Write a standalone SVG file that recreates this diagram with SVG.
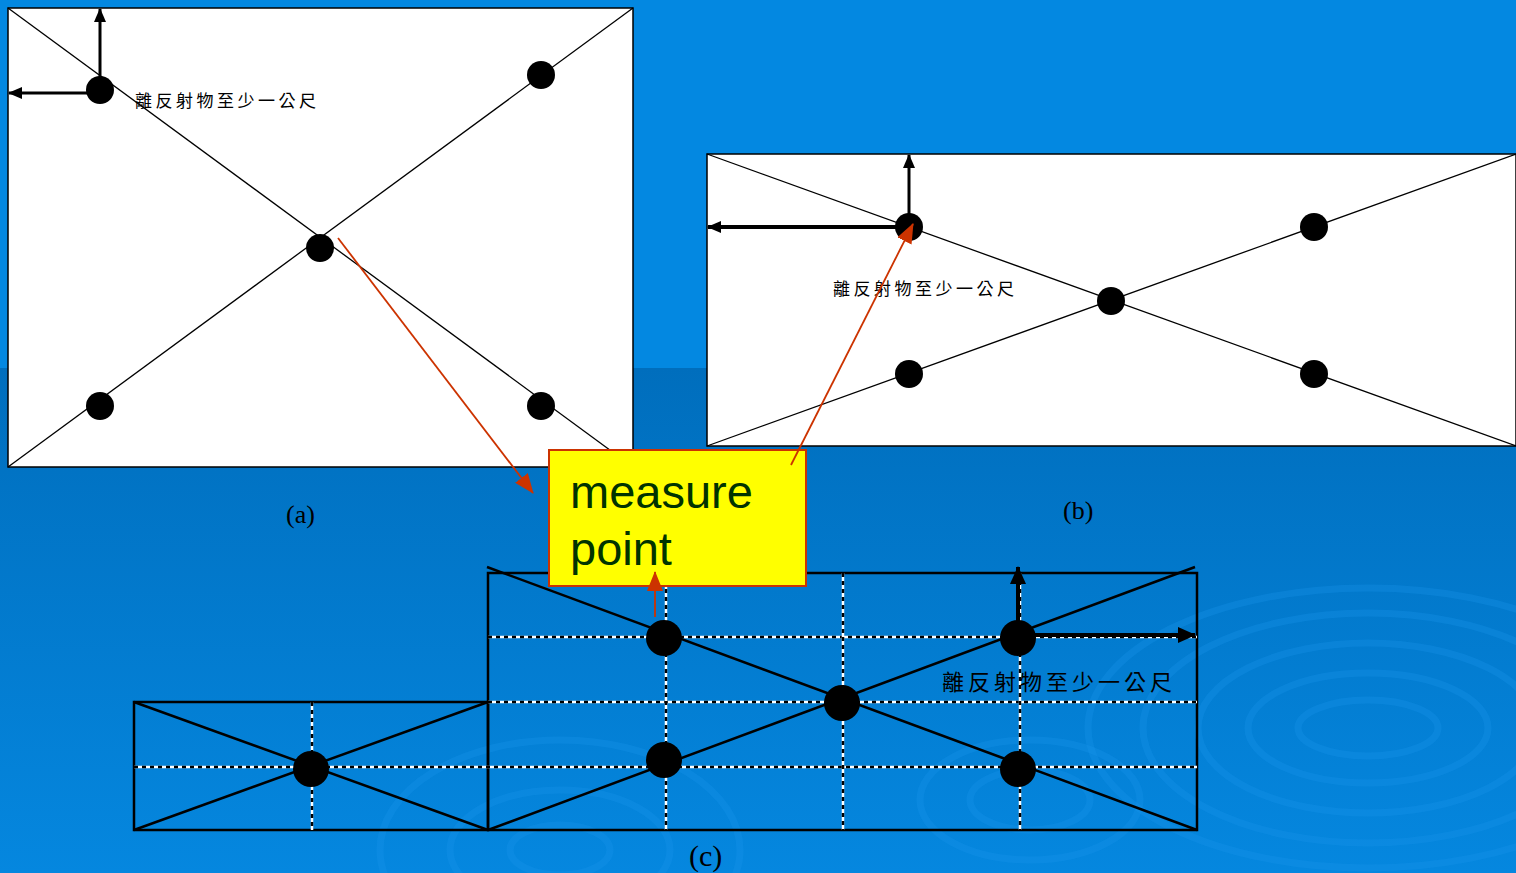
<svg xmlns="http://www.w3.org/2000/svg" width="1516" height="873" viewBox="0 0 1516 873">
<defs>
<linearGradient id="bgLow" x1="0" y1="0" x2="0" y2="1">
<stop offset="0" stop-color="#006ebd"/>
<stop offset="1" stop-color="#0587df"/>
</linearGradient>
<marker id="ah" markerUnits="userSpaceOnUse" markerWidth="14" markerHeight="12" refX="13" refY="6" orient="auto">
<path d="M0,0 L14,6 L0,12 Z" fill="#000"/>
</marker>
<marker id="ahb" markerUnits="userSpaceOnUse" markerWidth="18" markerHeight="16" refX="17" refY="8" orient="auto">
<path d="M0,0 L18,8 L0,16 Z" fill="#000"/>
</marker>
<marker id="ahr" markerUnits="userSpaceOnUse" markerWidth="20" markerHeight="16" refX="19" refY="8" orient="auto">
<path d="M0,0 L20,8 L0,16 Z" fill="#cc3300"/>
</marker>
<style>
.panel{fill:#fff;stroke:#000;stroke-width:1.5}
.thin{stroke:#000;stroke-width:1.3;fill:none}
.solid{stroke:#000;stroke-width:2.5;fill:none}
.dw{stroke:#fff;stroke-width:2.5}
.db{stroke:#000;stroke-width:2.5;stroke-dasharray:4 4}
.ax{stroke:#000;stroke-width:3;fill:none}
.ax4{stroke:#000;stroke-width:4;fill:none}
.red{stroke:#cc3300;stroke-width:1.8;fill:none}
.cjk{font-family:"Noto Sans CJK TC","Noto Sans CJK SC",sans-serif;fill:#000}
.cap{font-family:"Liberation Serif",serif;fill:#000}
.rip{fill:none;stroke:#1a95ea;stroke-opacity:0.3}
</style>
</defs>
<g id="background">
<rect x="0" y="0" width="1516" height="873" fill="#0388e1"/>
<rect x="0" y="368" width="1516" height="505" fill="url(#bgLow)"/>
<g class="rip" stroke-width="7">
<ellipse cx="1368" cy="728" rx="70" ry="28"/>
<ellipse cx="1368" cy="728" rx="120" ry="55"/>
<ellipse cx="1368" cy="728" rx="170" ry="85"/>
<ellipse cx="1368" cy="728" rx="225" ry="115"/>
<ellipse cx="1368" cy="728" rx="280" ry="140"/>
<ellipse cx="560" cy="850" rx="50" ry="25"/>
<ellipse cx="560" cy="850" rx="110" ry="60"/>
<ellipse cx="560" cy="850" rx="180" ry="110"/>
<ellipse cx="1030" cy="800" rx="60" ry="30"/>
<ellipse cx="1030" cy="800" rx="110" ry="60"/>
</g>
</g>
<g id="panel-a">
<rect class="panel" x="8" y="8" width="625" height="459"/>
<line class="thin" x1="8" y1="8" x2="633" y2="467"/>
<line class="thin" x1="8" y1="467" x2="633" y2="8"/>
<circle cx="100" cy="90" r="14"/>
<circle cx="541" cy="75" r="14"/>
<circle cx="320" cy="248" r="14"/>
<circle cx="100" cy="406" r="14"/>
<circle cx="541" cy="406" r="14"/>
<line class="ax" x1="100" y1="90" x2="100" y2="9" marker-end="url(#ah)"/>
<line class="ax" x1="100" y1="93" x2="9" y2="93" marker-end="url(#ah)"/>
<text class="cjk" x="135" y="107" font-size="17" letter-spacing="3.5">離反射物至少一公尺</text>
</g>
<g id="panel-b">
<rect class="panel" x="707" y="154" width="809" height="292"/>
<line class="thin" x1="707" y1="154" x2="1516" y2="446"/>
<line class="thin" x1="707" y1="446" x2="1516" y2="154"/>
<circle cx="909" cy="227" r="14"/>
<circle cx="1314" cy="227" r="14"/>
<circle cx="1111" cy="301" r="14"/>
<circle cx="909" cy="374" r="14"/>
<circle cx="1314" cy="374" r="14"/>
<line class="ax" x1="909" y1="227" x2="909" y2="155" marker-end="url(#ah)"/>
<line class="ax4" x1="909" y1="227" x2="708" y2="227" marker-end="url(#ah)"/>
<text class="cjk" x="833" y="295" font-size="17" letter-spacing="3.5">離反射物至少一公尺</text>
</g>
<g id="panel-c">
<rect x="488" y="573" width="709" height="257" fill="none" stroke="#000" stroke-width="2.5"/>
<rect x="134" y="702" width="354" height="128" fill="none" stroke="#000" stroke-width="2.5"/>
<g id="grid">
<line class="dw" x1="488" y1="637" x2="1197" y2="637"/><line class="db" x1="488" y1="637" x2="1197" y2="637"/>
<line class="dw" x1="488" y1="702" x2="1197" y2="702"/><line class="db" x1="488" y1="702" x2="1197" y2="702"/>
<line class="dw" x1="134" y1="767" x2="1197" y2="767"/><line class="db" x1="134" y1="767" x2="1197" y2="767"/>
<line class="dw" x1="312" y1="702" x2="312" y2="830"/><line class="db" x1="312" y1="702" x2="312" y2="830"/>
<line class="dw" x1="666" y1="573" x2="666" y2="830"/><line class="db" x1="666" y1="573" x2="666" y2="830"/>
<line class="dw" x1="843" y1="573" x2="843" y2="830"/><line class="db" x1="843" y1="573" x2="843" y2="830"/>
<line class="dw" x1="1020" y1="573" x2="1020" y2="830"/><line class="db" x1="1020" y1="573" x2="1020" y2="830"/>
</g>
<line class="solid" x1="487" y1="567" x2="1197" y2="830"/>
<line class="solid" x1="488" y1="830" x2="1195" y2="567"/>
<line class="solid" x1="134" y1="702" x2="488" y2="830"/>
<line class="solid" x1="134" y1="830" x2="488" y2="702"/>
<circle cx="664" cy="638" r="18"/>
<circle cx="1018" cy="638" r="18"/>
<circle cx="842" cy="703" r="18"/>
<circle cx="664" cy="760" r="18"/>
<circle cx="1018" cy="769" r="18"/>
<circle cx="311" cy="769" r="18"/>
<line class="ax4" x1="1018" y1="638" x2="1018" y2="567" marker-end="url(#ahb)"/>
<line class="ax4" x1="1018" y1="635" x2="1195" y2="635" marker-end="url(#ahb)"/>
<text class="cjk" x="942" y="690" font-size="22" letter-spacing="4">離反射物至少一公尺</text>
</g>
<g id="captions">
<text class="cap" x="286" y="523" style="font-size:26px">(a)</text>
<text class="cap" x="1063" y="519" style="font-size:26px">(b)</text>
<text class="cap" x="689" y="866" style="font-size:30px">(c)</text>
</g>
<g id="measure-point">
<rect x="549" y="450" width="257" height="136" fill="#ffff00" stroke="#cc3300" stroke-width="2"/>
<text x="570" y="508" font-family="Liberation Sans, Arial, sans-serif" font-size="47" fill="#003300">measure</text>
<text x="570" y="565" font-family="Liberation Sans, Arial, sans-serif" font-size="47" fill="#003300">point</text>
</g>
<g id="connectors">
<line class="red" x1="338" y1="238" x2="533" y2="493" marker-end="url(#ahr)"/>
<line class="red" x1="791" y1="465" x2="913" y2="224" marker-end="url(#ahr)"/>
<line class="red" x1="655" y1="617" x2="655" y2="572" marker-end="url(#ahr)"/>
</g>
</svg>
